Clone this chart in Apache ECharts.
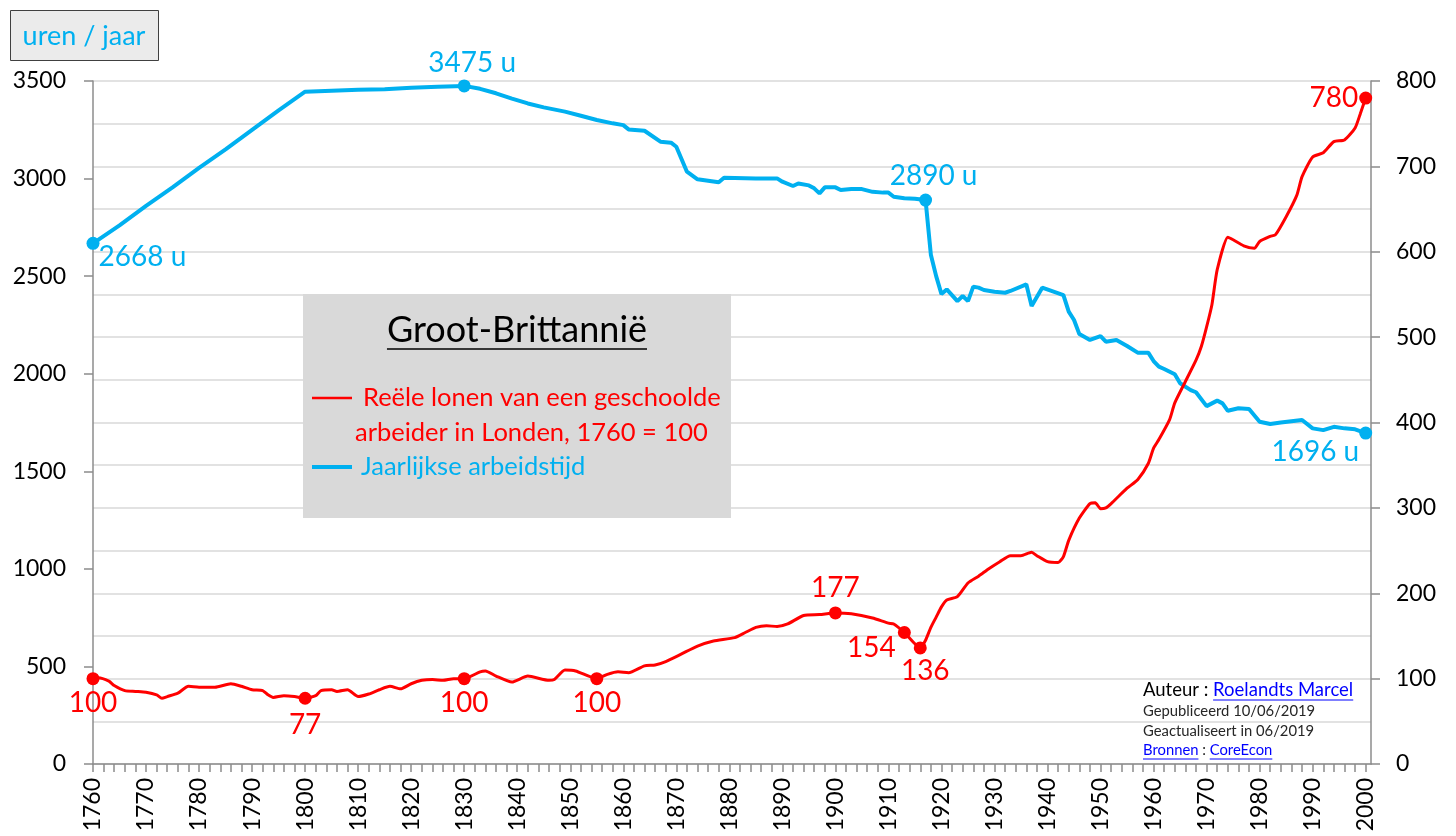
<!DOCTYPE html>
<html>
<head>
<meta charset="utf-8">
<title>Groot-Brittannië</title>
<script src="https://cdn.jsdelivr.net/npm/echarts@6/dist/echarts.min.js"></script>
<style>
  html, body { margin: 0; padding: 0; background: #fff; }
  #chart { width: 1456px; height: 836px; }
</style>
</head>
<body>
<div id="chart"></div>
<script>
// x categories: one per year, the axis runs a bit past 2000
const firstYear = 1760
const lastYear = 2001
const years = []
for (let y = firstYear; y <= lastYear; y++) years.push(String(y))

// Jaarlijkse arbeidstijd (uren / jaar), left axis
const hoursYears = [1760, 1765, 1770, 1775, 1780, 1785, 1790, 1795, 1800, 1805, 1810, 1815, 1820, 1825, 1830,
  1833, 1836, 1839, 1842, 1845, 1849, 1852, 1855, 1858, 1860, 1861, 1864, 1867, 1869, 1870, 1872, 1874, 1876,
  1878, 1879, 1885, 1889, 1890, 1892, 1893, 1895, 1896, 1897, 1898, 1900, 1901, 1903, 1905, 1907, 1909, 1910,
  1911, 1913, 1915, 1917, 1918, 1919, 1920, 1921, 1923, 1924, 1925, 1926, 1927, 1928, 1930, 1932, 1933, 1936,
  1937, 1939, 1943, 1944, 1945, 1946, 1948, 1950, 1951, 1953, 1955, 1957, 1959, 1960, 1961, 1962, 1964, 1965,
  1967, 1968, 1970, 1972, 1973, 1974, 1976, 1978, 1980, 1982, 1984, 1988, 1990, 1992, 1994, 1996, 1998, 2000]
const hoursVals = [2668, 2760, 2860, 2955, 3055, 3150, 3250, 3350, 3445, 3450, 3455, 3458, 3465, 3470, 3475,
  3460, 3437, 3410, 3385, 3365, 3343, 3322, 3300, 3283, 3274, 3252, 3245, 3189, 3184, 3163, 3035, 2996, 2989,
  2981, 3004, 3000, 3001, 2984, 2962, 2975, 2965, 2950, 2924, 2955, 2955, 2941, 2946, 2946, 2932, 2928, 2928,
  2907, 2899, 2897, 2890, 2610, 2500, 2408, 2432, 2372, 2398, 2372, 2446, 2441, 2429, 2420, 2415, 2424, 2458,
  2347, 2441, 2403, 2318, 2275, 2203, 2173, 2193, 2164, 2173, 2142, 2108, 2108, 2065, 2036, 2024, 1997, 1951,
  1916, 1905, 1834, 1862, 1848, 1810, 1823, 1819, 1754, 1742, 1750, 1763, 1720, 1711, 1728, 1720, 1715, 1696]

// Reële lonen geschoolde arbeider Londen, 1760 = 100, right axis
const wageYears = [1760, 1761, 1763, 1764, 1766, 1768, 1770, 1772, 1773, 1774, 1776, 1778, 1780, 1783, 1786,
  1788, 1790, 1792, 1793, 1794, 1796, 1798, 1800, 1802, 1803, 1805, 1806, 1808, 1810, 1812, 1814, 1816, 1818,
  1820, 1822, 1824, 1826, 1828, 1830, 1833, 1834, 1836, 1839, 1842, 1846, 1847, 1849, 1851, 1855, 1857, 1859,
  1861, 1864, 1866, 1868, 1871, 1874, 1877, 1881, 1883, 1885, 1887, 1889, 1891, 1894, 1897, 1900, 1903, 1907,
  1910, 1911, 1913, 1916, 1917, 1918, 1919, 1920, 1921, 1923, 1925, 1927, 1929, 1931, 1933, 1935, 1937, 1938,
  1940, 1942, 1943, 1944, 1946, 1948, 1949, 1950, 1951, 1952, 1955, 1957, 1959, 1960, 1961, 1963, 1964, 1966,
  1968, 1969, 1970, 1971, 1972, 1974, 1975, 1977, 1979, 1980, 1982, 1983, 1985, 1987, 1988, 1990, 1992, 1994,
  1996, 1998, 1999, 2000]
const wageVals = [100, 101, 97, 92, 86, 85, 84, 81, 77, 79, 83, 91, 90, 90, 94,
  91, 87, 86, 81, 78, 80, 79, 77, 80, 86, 87, 85, 87, 79, 82, 87, 91, 88,
  94, 98, 99, 98, 100, 100, 108, 109, 103, 96, 103, 98, 99, 110, 109, 100, 105, 108,
  107, 115, 116, 120, 129, 138, 144, 148, 154, 160, 162, 161, 164, 174, 175, 177, 176, 171,
  165, 164, 154, 136, 145, 160, 172, 184, 192, 196, 212, 220, 229, 237, 244, 244, 248, 244,
  237, 236, 243, 262, 288, 305, 306, 299, 300, 305, 323, 333, 352, 370, 380, 403, 423, 448,
  473, 489, 512, 538, 579, 617, 614, 607, 604, 612, 618, 620, 641, 666, 688, 711, 716, 729,
  731, 745, 762, 780]

// marked points with value labels
const hoursMarks = [1760, 1830, 1917, 2000]
const wageMarks = [1760, 1800, 1830, 1855, 1900, 1913, 1916, 2000]

const BLUE = '#00b0f0'
const RED = '#ff0000'
const FONT = 'Lato'

const hoursLabelPos = {
  1760: { position: 'right', distance: 0, offset: [-1, 14] },
  1830: { position: 'top', distance: 2, offset: [8, 0] },
  1917: { position: 'top', distance: 4, offset: [8, 0] },
  2000: { position: 'left', distance: 0, offset: [0, 19] }
}
const wageLabelPos = {
  1760: { position: 'bottom', distance: 4 },
  1800: { position: 'bottom', distance: 6 },
  1830: { position: 'bottom', distance: 4 },
  1855: { position: 'bottom', distance: 4 },
  1900: { position: 'top', distance: 4 },
  1913: { position: 'left', distance: 2, offset: [0, 15] },
  1916: { position: 'bottom', distance: 3, offset: [5, 0] },
  2000: { position: 'left', distance: 1 }
}

function textWidth(str, font) {
  const ctx = document.createElement('canvas').getContext('2d')
  ctx.font = font
  return ctx.measureText(str).width
}

const chart = echarts.init(document.getElementById('chart'))

// footer text pieces
const fAuteur = 'Auteur : '
const fName = 'Roelandts Marcel'
const fBron = 'Bronnen'
const fSep = ' : '
const fCore = 'CoreEcon'
const footX = 1143
const bigFoot = '18.5px ' + FONT
const smallFoot = '14.8px ' + FONT
const wAuteur = textWidth(fAuteur, bigFoot)
const wName = textWidth(fName, bigFoot)
const wBron = textWidth(fBron, smallFoot)
const wSep = textWidth(fSep, smallFoot)
const wCore = textWidth(fCore, smallFoot)
const titleText = 'Groot-Brittannië'
const titleFont = '36px ' + FONT
const wTitle = textWidth(titleText, titleFont)
const legendFont = '25.5px ' + FONT

chart.setOption({
  animation: false,
  textStyle: { fontFamily: FONT },
  grid: { left: 93, right: 85, top: 81, bottom: 72 },
  xAxis: {
    type: 'category',
    data: years,
    boundaryGap: false,
    axisLine: { lineStyle: { color: '#8c8c8c', width: 1.5 } },
    axisTick: { interval: 1, length: 8, lineStyle: { color: '#8c8c8c', width: 1.5 } },
    axisLabel: { interval: 9, rotate: 90, fontSize: 23, color: '#000', margin: 14 },
    splitLine: { show: false }
  },
  yAxis: [{
    type: 'value',
    position: 'left',
    min: 0,
    max: 3500,
    interval: 500,
    axisLine: { show: true, lineStyle: { color: '#8c8c8c', width: 1.5 } },
    axisTick: { show: true, length: 9, lineStyle: { color: '#8c8c8c', width: 1.5 } },
    axisLabel: { fontSize: 23, color: '#000', margin: 27, formatter: v => String(v) },
    splitLine: { show: false }
  }, {
    type: 'value',
    position: 'right',
    min: 0,
    max: 800,
    interval: 100,
    axisLine: { show: true, lineStyle: { color: '#8c8c8c', width: 1.5 } },
    axisTick: { show: true, length: 9, lineStyle: { color: '#8c8c8c', width: 1.5 } },
    axisLabel: { fontSize: 23, color: '#000', margin: 25, formatter: v => String(v) },
    splitLine: { show: true, lineStyle: { color: '#d9d9d9', width: 1.5 } },
    minorTick: { show: false, splitNumber: 2 },
    minorSplitLine: { show: true, lineStyle: { color: '#d9d9d9', width: 1.5 } }
  }],
  series: [{
    name: 'Jaarlijkse arbeidstijd',
    type: 'line',
    yAxisIndex: 0,
    data: hoursYears.map((y, i) => [String(y), hoursVals[i]]),
    showSymbol: false,
    silent: true,
    lineStyle: { color: BLUE, width: 4 },
    itemStyle: { color: BLUE },
    z: 3
  }, {
    name: 'Reële lonen',
    type: 'line',
    yAxisIndex: 1,
    data: wageYears.map((y, i) => [String(y), wageVals[i]]),
    showSymbol: false,
    silent: true,
    smooth: 0.2,
    lineStyle: { color: RED, width: 3 },
    itemStyle: { color: RED },
    z: 4
  }, {
    type: 'scatter',
    yAxisIndex: 0,
    symbolSize: 13,
    silent: true,
    itemStyle: { color: BLUE, opacity: 1 },
    label: { show: true, formatter: p => p.value[1] + ' u', fontSize: 28, color: BLUE },
    data: hoursMarks.map(y => ({
      value: [String(y), hoursVals[hoursYears.indexOf(y)]],
      label: hoursLabelPos[y]
    })),
    z: 5
  }, {
    type: 'scatter',
    yAxisIndex: 1,
    symbolSize: 13,
    silent: true,
    itemStyle: { color: RED, opacity: 1 },
    label: { show: true, formatter: p => String(p.value[1]), fontSize: 28, color: RED },
    data: wageMarks.map(y => ({
      value: [String(y), wageVals[wageYears.indexOf(y)]],
      label: wageLabelPos[y]
    })),
    z: 6
  }],
  graphic: [
    // unit box top left
    { type: 'rect', z: 50, shape: { x: 10.5, y: 10.5, width: 148, height: 50 },
      style: { fill: '#ebebeb', stroke: '#404040', lineWidth: 1 } },
    { type: 'text', z: 51, x: 84, y: 36,
      style: { text: 'uren / jaar', fill: BLUE, font: '27px ' + FONT, align: 'center', verticalAlign: 'middle' } },
    // title + legend box
    { type: 'rect', z: 50, shape: { x: 303, y: 294, width: 428, height: 224 }, style: { fill: '#d9d9d9' } },
    { type: 'text', z: 51, x: 517, y: 330,
      style: { text: titleText, fill: '#000', font: titleFont, align: 'center', verticalAlign: 'middle' } },
    { type: 'line', z: 51, shape: { x1: 517 - wTitle / 2, y1: 349, x2: 517 + wTitle / 2, y2: 349 },
      style: { stroke: '#000', lineWidth: 1.5 } },
    { type: 'line', z: 51, shape: { x1: 312, y1: 398, x2: 352, y2: 398 }, style: { stroke: RED, lineWidth: 2.5 } },
    { type: 'text', z: 51, x: 363, y: 398,
      style: { text: 'Reële lonen van een geschoolde', fill: RED, font: legendFont, verticalAlign: 'middle' } },
    { type: 'text', z: 51, x: 355, y: 433,
      style: { text: 'arbeider in Londen, 1760 = 100', fill: RED, font: legendFont, verticalAlign: 'middle' } },
    { type: 'line', z: 51, shape: { x1: 312, y1: 467, x2: 352, y2: 467 }, style: { stroke: BLUE, lineWidth: 4 } },
    { type: 'text', z: 51, x: 361, y: 467,
      style: { text: 'Jaarlijkse arbeidstijd', fill: BLUE, font: legendFont, verticalAlign: 'middle' } },
    // footer
    { type: 'text', z: 51, x: footX, y: 690,
      style: { text: fAuteur, fill: '#000', font: bigFoot, verticalAlign: 'middle' } },
    { type: 'text', z: 51, x: footX + wAuteur, y: 690,
      style: { text: fName, fill: '#0000ff', font: bigFoot, verticalAlign: 'middle' } },
    { type: 'line', z: 51, shape: { x1: footX + wAuteur, y1: 700, x2: footX + wAuteur + wName, y2: 700 },
      style: { stroke: '#0000ff', lineWidth: 1 } },
    { type: 'text', z: 51, x: footX, y: 711,
      style: { text: 'Gepubliceerd 10/06/2019', fill: '#262626', font: smallFoot, verticalAlign: 'middle' } },
    { type: 'text', z: 51, x: footX, y: 731,
      style: { text: 'Geactualiseert in 06/2019', fill: '#262626', font: smallFoot, verticalAlign: 'middle' } },
    { type: 'text', z: 51, x: footX, y: 750,
      style: { text: fBron, fill: '#0000ff', font: smallFoot, verticalAlign: 'middle' } },
    { type: 'text', z: 51, x: footX + wBron, y: 750,
      style: { text: fSep, fill: '#262626', font: smallFoot, verticalAlign: 'middle' } },
    { type: 'text', z: 51, x: footX + wBron + wSep, y: 750,
      style: { text: fCore, fill: '#0000ff', font: smallFoot, verticalAlign: 'middle' } },
    { type: 'line', z: 51, shape: { x1: footX, y1: 759, x2: footX + wBron, y2: 759 },
      style: { stroke: '#0000ff', lineWidth: 1 } },
    { type: 'line', z: 51, shape: { x1: footX + wBron + wSep, y1: 759, x2: footX + wBron + wSep + wCore, y2: 759 },
      style: { stroke: '#0000ff', lineWidth: 1 } }
  ]
})
</script>
</body>
</html>
